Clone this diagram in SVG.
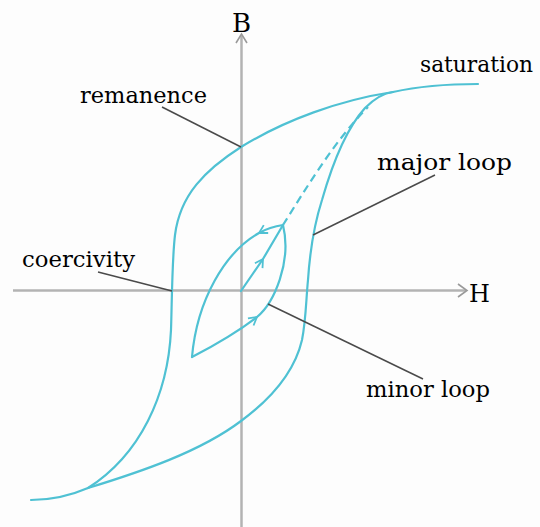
<svg xmlns="http://www.w3.org/2000/svg" width="540" height="527" viewBox="0 0 540 527">
<style>
.axis{stroke:#b3b3b3;stroke-width:2.5;fill:none}
.axhead{stroke:#9a9a9a;stroke-width:1.6;fill:none}
.curve{stroke:#4fc1d3;stroke-width:2.2;fill:none;stroke-linecap:round}
.dash{stroke:#4fc1d3;stroke-width:2.2;fill:none;stroke-dasharray:8 5}
.lead{stroke:#4a4a4a;stroke-width:1.5;fill:none}
text{fill:#000;font-family:"DejaVu Serif","Liberation Serif",serif;font-size:23px}
</style>
<defs>
<marker id="chev" markerUnits="userSpaceOnUse" markerWidth="20" markerHeight="20" viewBox="-10 -10 20 20" refX="0" refY="0" orient="auto">
<path d="M-8,-4.5 L0,0 L-8,4.5" fill="none" stroke="#4fc1d3" stroke-width="1.8"/>
</marker>
</defs>
<rect width="540" height="527" fill="#fdfdfd"/>
<g id="axes">
<line class="axis" x1="241.5" y1="36" x2="241.5" y2="527"/>
<path class="axhead" d="M236,43 L241.5,34 L247,43"/>
<line class="axis" x1="13" y1="290.5" x2="466" y2="290.5"/>
<path class="axhead" d="M458,284 L467,290.5 L458,297"/>
</g>
<g id="major-loop">
<path class="curve" d="M88,488 C140,472 200,452 241,421 C275,396 295,370 302,340 C306,320 306,300 308,280 C310,250 314,225 322,200 C332,165 345,130 365,108 C375,98 385,93 393,92"/>
<path class="curve" d="M393,92 C420,86 450,84 478,84"/>
<path class="curve" d="M393,92 C340,100 285,120 241,147 C205,170 180,195 175,235 C172,260 172,300 171,330 C168,395 140,455 88,488 C65,498 45,500 31,500"/>
<path class="dash" d="M283,225 C305,190 335,140 368,107"/>
</g>
<g id="minor-loop">
<path class="curve" d="M241,291 L263,259 L283,225" marker-mid="url(#chev)"/>
<path class="curve" d="M283,225 C276,226 266,229 259,233 C225,252 197,300 192,357" marker-mid="url(#chev)"/>
<path class="curve" d="M192,357 C215,345 240,330 257,317 C274,303 292,262 283,225" marker-mid="url(#chev)"/>
</g>
<g id="connectors">
<line class="lead" x1="162" y1="107" x2="241" y2="147"/>
<line class="lead" x1="313" y1="235" x2="435" y2="175"/>
<line class="lead" x1="98" y1="272" x2="172" y2="291"/>
<line class="lead" x1="268" y1="304" x2="423" y2="379"/>
</g>
<g id="label-B"><text x="241.5" y="32" text-anchor="middle" style="font-size:26px">B</text></g>
<g id="label-H"><text x="469" y="302" style="font-size:24px">H</text></g>
<g id="label-remanence"><text x="80" y="103" textLength="127" lengthAdjust="spacingAndGlyphs">remanence</text></g>
<g id="label-saturation"><text x="420" y="72" textLength="113" lengthAdjust="spacingAndGlyphs">saturation</text></g>
<g id="label-major"><text x="377" y="170" textLength="135" lengthAdjust="spacingAndGlyphs">major loop</text></g>
<g id="label-coercivity"><text x="22" y="267" textLength="113" lengthAdjust="spacingAndGlyphs">coercivity</text></g>
<g id="label-minor"><text x="366" y="397" textLength="124" lengthAdjust="spacingAndGlyphs">minor loop</text></g>
</svg>
